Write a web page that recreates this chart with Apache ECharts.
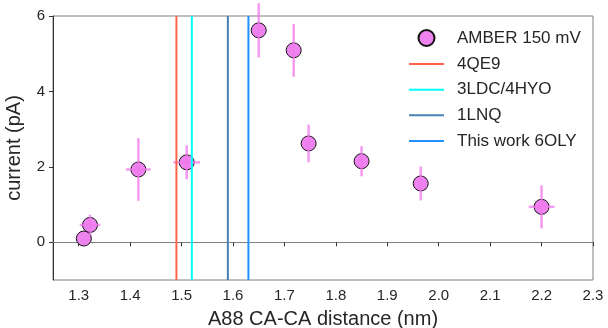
<!DOCTYPE html>
<html>
<head>
<meta charset="utf-8">
<script src="https://cdn.jsdelivr.net/npm/echarts@6/dist/echarts.min.js"></script>
<style>html,body{margin:0;padding:0;background:#fff}#c{width:608px;height:328px}</style>
</head>
<body>
<div id="c"></div>
<script>
// ---- data ----
var seriesName = 'AMBER 150 mV';
var distance = [1.31, 1.322, 1.416, 1.51, 1.65, 1.718, 1.747, 1.85, 1.965, 2.2];
var current = [0.10, 0.46, 1.93, 2.12, 5.62, 5.09, 2.62, 2.15, 1.56, 0.94];
var currentErr = [0.00, 0.27, 0.83, 0.45, 0.72, 0.70, 0.50, 0.40, 0.45, 0.57];
var distanceErr = [0.00, 0.020, 0.024, 0.026, 0.00, 0.00, 0.00, 0.00, 0.00, 0.025];
var refNames = ['4QE9', '3LDC/4HYO', '1LNQ', 'This work 6OLY'];
var refDistance = [1.49, 1.52, 1.59, 1.63];
var xTicks = [1.3, 1.4, 1.5, 1.6, 1.7, 1.8, 1.9, 2.0, 2.1, 2.2, 2.3];
var yTicks = [0, 2, 4, 6];
var xRange = [1.25, 2.3];
var yRange = [-1, 6];

var refColors = ['#ff6347', '#00ffff', '#4682b4', '#1e90ff'];
var FONT = "'Liberation Sans', Arial, sans-serif";
var TXT = '#262626';

var chart = echarts.init(document.getElementById('c'), null, {renderer: 'canvas'});

var pts = distance.map(function (d, i) { return [d, current[i]]; });
var errData = distance.map(function (d, i) { return [d, current[i], distanceErr[i], currentErr[i]]; });

var series = [];
series.push({
  name: seriesName,
  type: 'scatter',
  data: pts,
  symbol: 'circle',
  symbolSize: 15,
  itemStyle: {color: '#ee82ee', borderColor: '#111', borderWidth: 1, opacity: 1},
  z: 3
});
series.push({
  name: 'err',
  type: 'custom',
  data: errData,
  clip: false,
  z: 4,
  silent: true,
  renderItem: function (params, api) {
    var x = api.value(0), y = api.value(1), xe = api.value(2), ye = api.value(3);
    var children = [];
    var st = {stroke: 'rgba(240,120,235,0.75)', lineWidth: 2.5};
    if (ye > 0) {
      var p1 = api.coord([x, y - ye]), p2 = api.coord([x, y + ye]);
      children.push({type: 'line', shape: {x1: p1[0], y1: p1[1], x2: p2[0], y2: p2[1]}, style: st});
    }
    if (xe > 0) {
      var q1 = api.coord([x - xe, y]), q2 = api.coord([x + xe, y]);
      children.push({type: 'line', shape: {x1: q1[0], y1: q1[1], x2: q2[0], y2: q2[1]}, style: st});
    }
    return {type: 'group', children: children};
  }
});
refNames.forEach(function (n, i) {
  series.push({
    name: n,
    type: 'line',
    data: [[refDistance[i], yRange[0]], [refDistance[i], yRange[1]]],
    symbol: 'none',
    lineStyle: {color: refColors[i], width: 2},
    itemStyle: {color: refColors[i]},
    z: 5,
    silent: true
  });
});

chart.setOption({
  animation: false,
  textStyle: {fontFamily: FONT},
  grid: {left: 53, right: 15, top: 16, bottom: 48, containLabel: false, outerBoundsMode: 'none',
    show: true, borderColor: '#808080', borderWidth: 1},
  legend: {
    data: [{name: seriesName, icon: 'circle'}].concat(refNames.map(function (n) {
      return {name: n, itemStyle: {opacity: 0}};
    })),
    orient: 'vertical',
    left: 408,
    top: 29,
    padding: 0,
    itemWidth: 35,
    itemHeight: 16,
    itemGap: 8.6,
    textStyle: {fontFamily: FONT, fontSize: 17, color: TXT, padding: [0, 0, 0, 8]}
  },
  xAxis: {
    type: 'value',
    min: xRange[0],
    max: xRange[1],
    name: 'A88 CA-CA distance (nm)',
    nameLocation: 'middle',
    nameGap: 29,
    nameTextStyle: {fontFamily: FONT, fontSize: 20, color: TXT},
    axisLine: {show: true, lineStyle: {color: '#808080', width: 1}},
    axisTick: {show: true, length: 4, inside: false, customValues: xTicks, lineStyle: {color: '#333'}},
    axisLabel: {customValues: xTicks, margin: 8, fontSize: 15, color: TXT, fontFamily: FONT,
      formatter: function (v) { return v.toFixed(1); }},
    splitLine: {show: false}
  },
  yAxis: {
    type: 'value',
    min: yRange[0],
    max: yRange[1],
    name: 'current (pA)',
    nameLocation: 'middle',
    nameGap: 29,
    nameTextStyle: {fontFamily: FONT, fontSize: 20, color: TXT},
    axisLine: {show: true, lineStyle: {color: '#333', width: 1}},
    axisTick: {show: true, length: 4, inside: false, customValues: yTicks, lineStyle: {color: '#333'}},
    axisLabel: {customValues: yTicks, margin: 8, fontSize: 15, color: TXT, fontFamily: FONT,
      formatter: function (v) { return String(v); }},
    splitLine: {show: false}
  },
  series: series
});
</script>
</body>
</html>
